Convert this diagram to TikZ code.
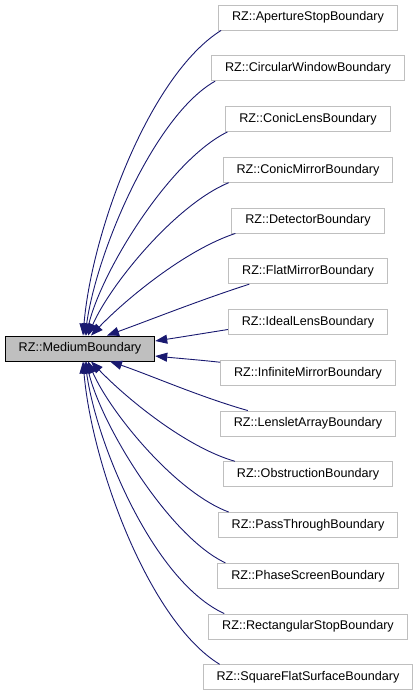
\documentclass[tikz,border=0pt]{standalone}
\usepackage{fontspec}
\setmainfont{Liberation Sans}
\usetikzlibrary{arrows.meta}

\definecolor{edgeblue}{HTML}{191970}
\definecolor{boxgrey}{HTML}{BFBFBF}

\tikzset{
    basebox/.style={rectangle, inner xsep=13.5pt, inner ysep=0pt, minimum height=25pt,
        font=\fontsize{12.6}{15}\selectfont, line width=0.9pt},
    childbox/.style={basebox, draw=boxgrey, fill=white},
    parentbox/.style={basebox, draw=black, fill=boxgrey},
    inh/.style={draw=edgeblue, line width=0.9pt, -{Triangle[length=12pt,width=9pt]}}
}

\begin{document}
\begin{tikzpicture}[x=1pt, y=-1pt]
    % --- frame ---
    \useasboundingbox (0,0) rectangle (419,696);

    % --- base class ---
    \node[parentbox] (medium) at (80,348.5) {RZ::MediumBoundary};

    % --- derived classes ---
    \def\colx{308}      % column centre
    \def\rowtop{17.5}   % first row
    \def\rowgap{50.75}  % row spacing
    \foreach \name/\label [count=\i from 0] in {
        aperture/ApertureStopBoundary,
        circular/CircularWindowBoundary,
        coniclens/ConicLensBoundary,
        conicmirror/ConicMirrorBoundary,
        detector/DetectorBoundary,
        flatmirror/FlatMirrorBoundary,
        ideallens/IdealLensBoundary,
        infinite/InfiniteMirrorBoundary,
        lenslet/LensletArrayBoundary,
        obstruction/ObstructionBoundary,
        passthrough/PassThroughBoundary,
        phasescreen/PhaseScreenBoundary,
        rectstop/RectangularStopBoundary,
        squareflat/SquareFlatSurfaceBoundary}
        \node[childbox] (\name) at (\colx, \rowtop + \rowgap*\i) {RZ::\label};

    % --- inheritance edges (top) ---
    \draw[inh] ([xshift=3pt]aperture.south west) .. controls (150,75) and (92,230) .. ([xshift=3pt]medium.north);
    \draw[inh] ([xshift=4pt]circular.south west) .. controls (155,115) and (97,250) .. ([xshift=5pt]medium.north);
    \draw[inh] ([xshift=2pt]coniclens.south west) .. controls (170,160) and (102,270) .. ([xshift=6pt]medium.north);
    \draw[inh] ([xshift=6pt]conicmirror.south west) .. controls (175,205) and (110,285) .. ([xshift=8pt]medium.north);
    \draw[inh] ([xshift=4pt]detector.south west) .. controls (185,250) and (125,300) .. ([xshift=11pt]medium.north);
    \draw[inh] ([xshift=21pt]flatmirror.south west) .. controls (200,300) and (150,320) .. ([xshift=27pt]medium.north);

    % --- inheritance edges (right) ---
    \draw[inh] ([yshift=-7.5pt]ideallens.west) .. controls (200,334) and (175,338) .. ([yshift=7.5pt]medium.east);
    \draw[inh] ([yshift=10.5pt]infinite.west) .. controls (200,360) and (175,358) .. ([yshift=-7.5pt]medium.east);

    % --- inheritance edges (bottom) ---
    \draw[inh] ([xshift=28pt]lenslet.north west) .. controls (200,397) and (150,375) .. ([xshift=30pt]medium.south);
    \draw[inh] ([xshift=12pt]obstruction.north west) .. controls (185,447) and (125,397) .. ([xshift=11pt]medium.south);
    \draw[inh] ([xshift=11pt]passthrough.north west) .. controls (175,492) and (110,412) .. ([xshift=8pt]medium.south);
    \draw[inh] ([xshift=8pt]phasescreen.north west) .. controls (170,537) and (102,427) .. ([xshift=6pt]medium.south);
    \draw[inh] ([xshift=16pt]rectstop.north west) .. controls (155,582) and (97,447) .. ([xshift=5pt]medium.south);
    \draw[inh] ([xshift=17pt]squareflat.north west) .. controls (150,622) and (92,467) .. ([xshift=3pt]medium.south);
\end{tikzpicture}
\end{document}
